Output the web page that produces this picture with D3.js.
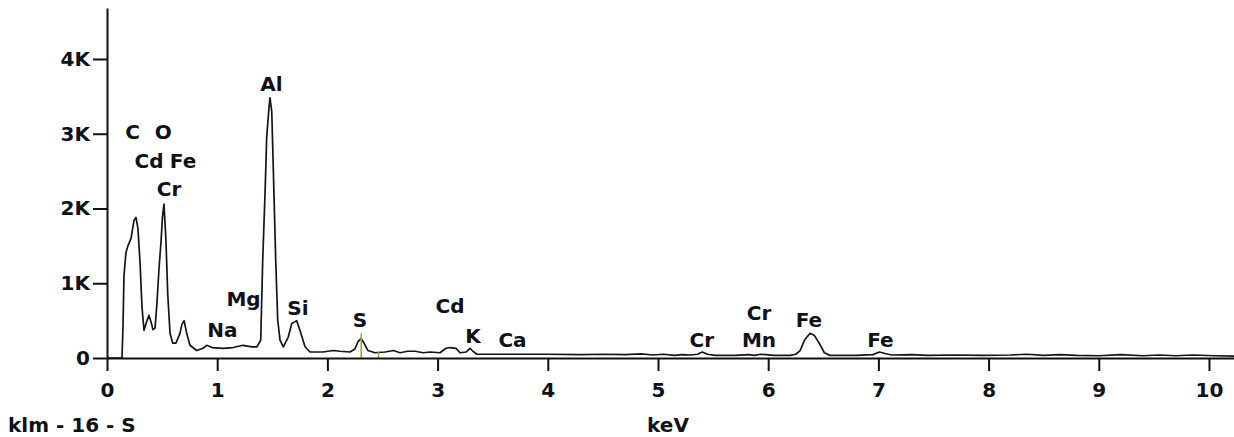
<!DOCTYPE html>
<html>
<head>
<meta charset="utf-8">
<script src="https://cdn.jsdelivr.net/npm/d3@7"></script>
<style>
  body { margin: 0; background: #fff; }
  svg { display: block; }
  text { font-family: "DejaVu Sans", Verdana, sans-serif; font-weight: bold; font-size: 20px; fill: #101018; }
</style>
</head>
<body>
<svg id="chart" width="1234" height="437"></svg>
<script>
// spectrum, energy in keV and counts in thousands
const energy = [0, 0.136, 0.145, 0.154, 0.172, 0.19, 0.218, 0.245, 0.263, 0.281, 0.30, 0.318, 0.336, 0.363, 0.381, 0.40, 0.417, 0.436,
  0.454, 0.472, 0.49, 0.503, 0.517, 0.535, 0.551, 0.572, 0.596, 0.626, 0.662, 0.68, 0.70, 0.723, 0.753, 0.814, 0.871, 0.905, 0.953,
  1.053, 1.143, 1.234, 1.316, 1.361, 1.395, 1.413, 1.434, 1.449, 1.47, 1.479, 1.495, 1.504, 1.515, 1.531, 1.549, 1.57, 1.60, 1.645,
  1.676, 1.721, 1.751, 1.797, 1.842, 1.96, 2.05, 2.114, 2.205, 2.25, 2.278, 2.305, 2.332, 2.368, 2.432, 2.523, 2.60, 2.659, 2.73,
  2.795, 2.87, 2.931, 3.022, 3.076, 3.112, 3.167, 3.203, 3.258, 3.294, 3.32, 3.357,
  3.70, 4.00, 4.30, 4.50, 4.70, 4.85, 4.95, 5.05, 5.15, 5.22, 5.30, 5.36, 5.40, 5.45, 5.52, 5.70, 5.82, 5.88, 5.93, 5.98, 6.05,
  6.20, 6.25, 6.29, 6.33, 6.38, 6.42, 6.47, 6.51, 6.56, 6.80, 6.95, 7.01, 7.06, 7.12, 7.30, 7.45, 7.70, 7.95, 8.20, 8.35, 8.50,
  8.65, 8.80, 9.00, 9.20, 9.40, 9.55, 9.70, 9.85, 10.05, 10.23];
const counts = [0, 0, 0.41, 1.1, 1.41, 1.5, 1.6, 1.84, 1.88, 1.73, 1.27, 0.67, 0.37, 0.50, 0.57, 0.48, 0.38, 0.40,
  0.75, 1.2, 1.55, 1.88, 2.06, 1.57, 0.86, 0.33, 0.2, 0.2, 0.33, 0.45, 0.5, 0.33, 0.17, 0.1, 0.13, 0.17, 0.14,
  0.13, 0.14, 0.17, 0.15, 0.15, 0.24, 1.31, 2.2, 2.95, 3.35, 3.48, 3.3, 2.82, 2.2, 1.31, 0.51, 0.24, 0.15, 0.28,
  0.46, 0.5, 0.37, 0.15, 0.08, 0.08, 0.1, 0.09, 0.08, 0.12, 0.22, 0.26, 0.2, 0.1, 0.07, 0.08, 0.1, 0.07, 0.09,
  0.09, 0.07, 0.08, 0.07, 0.13, 0.14, 0.13, 0.07, 0.08, 0.13, 0.09, 0.05,
  0.05, 0.05, 0.045, 0.05, 0.045, 0.055, 0.04, 0.05, 0.035, 0.045, 0.04, 0.05, 0.08, 0.05, 0.035, 0.035, 0.045, 0.035, 0.05, 0.045, 0.035,
  0.035, 0.05, 0.1, 0.24, 0.33, 0.3, 0.18, 0.07, 0.035, 0.035, 0.045, 0.08, 0.06, 0.04, 0.045, 0.035, 0.04, 0.035, 0.04, 0.05, 0.035,
  0.045, 0.035, 0.03, 0.045, 0.03, 0.04, 0.03, 0.04, 0.03, 0.025];

// element labels: text, anchor energy (keV), baseline level (K counts)
const peakLabels = ["Al", "C", "O", "Cd", "Fe", "Cr", "Mg", "Na", "Si", "S", "Cd", "K", "Ca", "Cr", "Cr", "Mn", "Fe", "Fe"];
const peakKeV = [1.493, 0.233, 0.511, 0.381, 0.69, 0.563, 1.239, 1.048, 1.733, 2.296, 3.113, 3.321, 3.68, 5.397, 5.917, 5.917, 6.37, 7.019];
const peakLevel = [3.572, 2.93, 2.93, 2.542, 2.542, 2.167, 0.696, 0.281, 0.575, 0.415, 0.602, 0.2, 0.147, 0.147, 0.508, 0.147, 0.415, 0.147];

// KLM marker lines for S
const markerKeV = [2.307, 2.464];
const markerLevel = [0.33, 0.09];

const xTicks = [0, 1, 2, 3, 4, 5, 6, 7, 8, 9, 10];
const yTicks = [0, 1, 2, 3, 4];
const yTickLabels = ["0", "1K", "2K", "3K", "4K"];

const svg = d3.select("#chart");
const x = d3.scaleLinear().domain([0, 10.227]).range([107, 1234]);
const y = d3.scaleLinear().domain([0, 4.682]).range([358, 8]);

// spectrum line
const pts = energy.map((e, i) => [e, counts[i]]);
svg.append("path")
  .datum(pts)
  .attr("fill", "none")
  .attr("stroke", "#151515")
  .attr("stroke-width", 1.7)
  .attr("stroke-linejoin", "round")
  .attr("d", d3.line().x(d => x(d[0])).y(d => y(d[1])));

// marker lines
svg.selectAll(".marker")
  .data(markerKeV)
  .enter().append("line")
  .attr("class", "marker")
  .attr("x1", d => x(d)).attr("x2", d => x(d))
  .attr("y1", y(0)).attr("y2", (d, i) => y(markerLevel[i]))
  .attr("stroke", "#a3a332")
  .attr("stroke-width", 1.6);

// axes
const xAxis = svg.append("g")
  .attr("transform", `translate(0,${y(0)})`)
  .call(d3.axisBottom(x).tickValues(xTicks).tickFormat(d3.format("d")).tickSize(13).tickSizeOuter(0).tickPadding(12));

const yAxis = svg.append("g")
  .attr("transform", `translate(${x(0)},0)`)
  .call(d3.axisLeft(y).tickValues(yTicks).tickFormat((d, i) => yTickLabels[i]).tickSize(14).tickSizeOuter(0).tickPadding(3));

[xAxis, yAxis].forEach(g => {
  g.select(".domain").attr("stroke", "#101010").attr("stroke-width", 2);
  g.selectAll(".tick line").attr("stroke", "#101010").attr("stroke-width", 2);
  g.selectAll(".tick text").attr("fill", "#101018").style("font-size", "20px")
    .style("font-family", "'DejaVu Sans', Verdana, sans-serif").style("font-weight", "bold");
});

// peak labels
svg.selectAll(".plabel")
  .data(peakLabels)
  .enter().append("text")
  .attr("class", "plabel")
  .attr("text-anchor", "middle")
  .attr("x", (d, i) => x(peakKeV[i]))
  .attr("y", (d, i) => y(peakLevel[i]))
  .text(d => d);

// footer texts
svg.append("text").attr("x", 8).attr("y", 432).text("klm - 16 - S");
svg.append("text").attr("x", 668).attr("y", 432).attr("text-anchor", "middle").text("keV");
</script>
</body>
</html>
